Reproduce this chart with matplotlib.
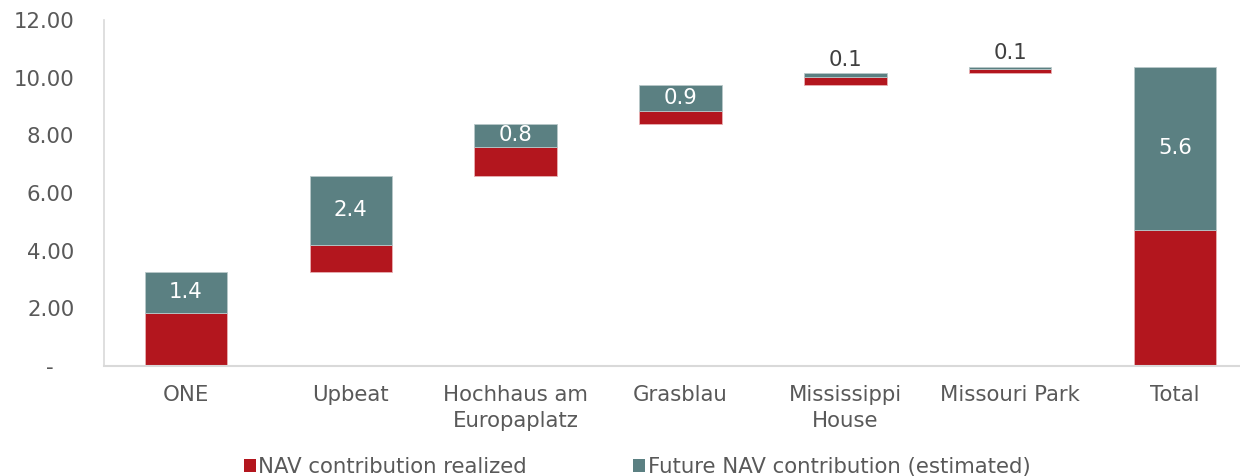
import matplotlib
matplotlib.use("Agg")
import matplotlib.pyplot as plt
from matplotlib.patches import Patch
from matplotlib.ticker import FixedLocator

categories = ["ONE", "Upbeat", "Hochhaus am\nEuropaplatz", "Grasblau", "Mississippi\nHouse", "Missouri Park", "Total"]
realized = [1.84, 0.95, 1.01, 0.46, 0.25, 0.15, 4.72]
future = [1.42, 2.39, 0.79, 0.90, 0.15, 0.07, 5.65]
labels = ["1.4", "2.4", "0.8", "0.9", "0.1", "0.1", "5.6"]
yticks = [0, 2, 4, 6, 8, 10, 12]
ytick_labels = ["-   ", "2.00", "4.00", "6.00", "8.00", "10.00", "12.00"]

red = "#b3161e"
teal = "#5b8082"
txt = "#595959"
FS = 15.3

plt.rcParams['font.family'] = ['DejaVu Sans']

fig = plt.figure(figsize=(12.4, 4.76), dpi=100)
ax = fig.add_axes([103.5/1240, 1-366/476, 1154/1240, 346/476])

# waterfall bases
bases = []
cum = 0.0
for i in range(len(categories)):
    if i == len(categories) - 1:
        bases.append(0.0)
    else:
        bases.append(cum)
        cum += realized[i] + future[i]

x = list(range(len(categories)))
ax.bar(x, realized, bottom=bases, width=0.5, color=red, edgecolor="#e8b0b3", linewidth=0.6)
fut_bottom = [b + r for b, r in zip(bases, realized)]
ax.bar(x, future, bottom=fut_bottom, width=0.5, color=teal, edgecolor="#b8c8c9", linewidth=0.6)

for i in x:
    top = fut_bottom[i] + future[i]
    if future[i] > 0.5:
        ax.text(i, fut_bottom[i] + future[i] / 2, labels[i], ha="center", va="center",
                color="white", fontsize=FS)
    else:
        ax.text(i, top + 0.12, labels[i], ha="center", va="bottom", color="#404040", fontsize=FS)

ax.set_xlim(-0.5, 6.5)
ax.set_ylim(0, 12)
ax.yaxis.set_major_locator(FixedLocator(yticks))
ax.set_yticklabels(ytick_labels)
ax.set_xticks(x)
ax.set_xticklabels(categories, linespacing=1.35)
ax.tick_params(axis="both", length=0, labelsize=FS, colors=txt)
ax.tick_params(axis="y", pad=21)
ax.tick_params(axis="x", pad=14)
for s in ["top", "right"]:
    ax.spines[s].set_visible(False)
ax.spines["left"].set_color("#d9d9d9")
ax.spines["bottom"].set_color("#d9d9d9")
ax.spines["left"].set_linewidth(1.2)
ax.spines["bottom"].set_linewidth(1.5)

handles = [Patch(facecolor=red, edgecolor="none"), Patch(facecolor=teal, edgecolor="none")]
leg = fig.legend(handles, ["NAV contribution realized", "Future NAV contribution (estimated)"],
                 loc="center", bbox_to_anchor=(637/1240, 1 - 467/476), ncol=2, frameon=False,
                 fontsize=FS, handlelength=0.56, handleheight=0.56, handletextpad=0.12,
                 columnspacing=5.0, labelcolor=txt, borderpad=0)

fig.savefig("out.png", dpi=100)
